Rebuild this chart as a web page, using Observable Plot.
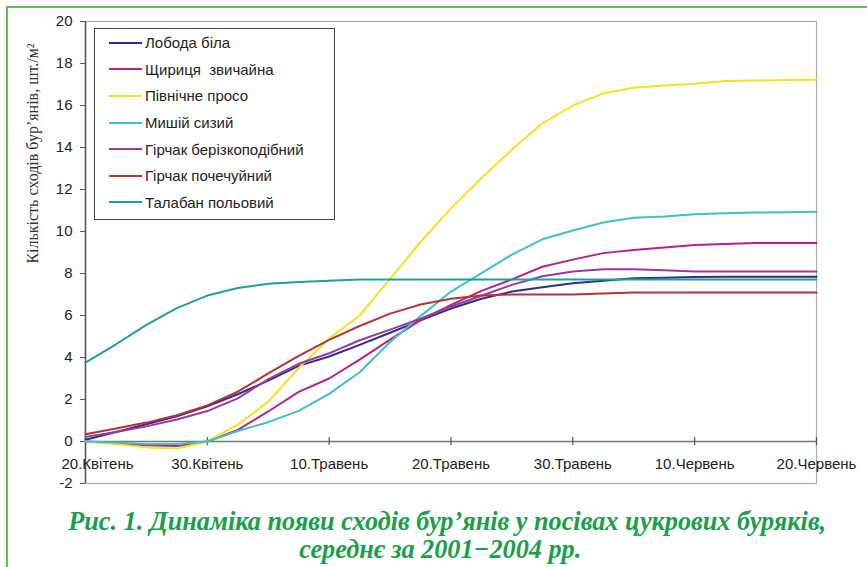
<!DOCTYPE html>
<html>
<head>
<meta charset="utf-8">
<script src="https://cdn.jsdelivr.net/npm/d3@7"></script>
<script src="https://cdn.jsdelivr.net/npm/@observablehq/plot@0.6"></script>
<style>
html, body { margin: 0; padding: 0; background: #fff; width: 867px; height: 567px; overflow: hidden; }
#wrap { position: relative; width: 867px; height: 567px; overflow: hidden; }
#border { position: absolute; left: 6px; top: 6px; width: 900px; height: 600px; border-top: 2px solid #66bb55; border-left: 2px solid #66bb55; }
#chart { position: absolute; left: 0; top: 0; }
#legend { position: absolute; left: 94px; top: 28px; width: 241px; height: 192px; border: 1px solid #444; box-sizing: border-box; background: #fff; font: 15px "Liberation Sans", Arial, sans-serif; color: #222; }
.row { position: absolute; left: 14px; height: 20px; display: flex; align-items: center; white-space: pre; }
.sw { width: 33px; height: 2px; margin-right: 3px; }
#caption { position: absolute; left: 0; width: 867px; top: 507px; text-align: center; font: italic bold 27px "Liberation Serif", serif; color: #1a9f4a; line-height: 28px; }
#caption div { white-space: nowrap; height: 28px; }
#caption span { display: inline-block; transform-origin: center; }
</style>
</head>
<body>
<div id="wrap">
  <div id="border"></div>
  <div id="chart"></div>
  <div id="legend"></div>
  <div id="caption"></div>
</div>
<script>
// ---- data ----
const days = [0, 2.5, 5, 7.5, 10, 12.5, 15, 17.5, 20, 22.5, 25, 27.5, 30, 32.5, 35, 37.5, 40, 42.5, 45, 47.5, 50, 52.5, 55, 57.5, 60];

const lobodaBila = [0.08, 0.45, 0.82, 1.2, 1.68, 2.25, 2.9, 3.6, 4.05, 4.6, 5.18, 5.77, 6.33, 6.8, 7.14, 7.35, 7.54, 7.65, 7.77, 7.8, 7.83, 7.84, 7.85, 7.85, 7.85];
const shchyrytsia = [0, -0.08, -0.18, -0.22, 0, 0.55, 1.43, 2.36, 3.0, 3.9, 4.85, 5.78, 6.51, 7.17, 7.72, 8.32, 8.66, 8.97, 9.12, 9.24, 9.36, 9.41, 9.45, 9.45, 9.45];
const pivnyacheProso = [0, -0.12, -0.28, -0.33, 0, 0.8, 1.9, 3.5, 4.9, 6.0, 7.74, 9.5, 11.1, 12.55, 13.9, 15.15, 16.0, 16.58, 16.85, 16.95, 17.04, 17.17, 17.19, 17.21, 17.23];
const myshiySyzyi = [0, -0.05, -0.12, -0.12, 0, 0.5, 0.92, 1.46, 2.27, 3.3, 4.74, 5.97, 7.14, 8.02, 8.9, 9.63, 10.05, 10.43, 10.65, 10.71, 10.82, 10.87, 10.9, 10.92, 10.94];
const hirchakBerizko = [0.22, 0.45, 0.72, 1.05, 1.45, 2.05, 2.97, 3.7, 4.2, 4.82, 5.33, 5.85, 6.43, 6.94, 7.46, 7.87, 8.1, 8.2, 8.2, 8.15, 8.09, 8.09, 8.09, 8.09, 8.09];
const hirchakPochech = [0.35, 0.62, 0.9, 1.25, 1.72, 2.37, 3.24, 4.08, 4.84, 5.5, 6.09, 6.52, 6.8, 6.95, 7.0, 7.0, 7.0, 7.05, 7.1, 7.1, 7.1, 7.1, 7.1, 7.1, 7.1];
const talaban = [3.76, 4.63, 5.55, 6.35, 6.95, 7.31, 7.51, 7.6, 7.65, 7.72, 7.72, 7.72, 7.72, 7.72, 7.72, 7.72, 7.72, 7.72, 7.72, 7.72, 7.72, 7.72, 7.72, 7.72, 7.72];

const seriesNames = ["Лобода біла", "Щириця  звичайна", "Північне просо", "Мишій сизий", "Гірчак берізкоподібний", "Гірчак почечуйний", "Талабан польовий"];
const seriesValues = [lobodaBila, shchyrytsia, pivnyacheProso, myshiySyzyi, hirchakBerizko, hirchakPochech, talaban];
const seriesColors = ["#2a2f8c", "#b5228e", "#f5e31b", "#3cc4c0", "#9b3a9e", "#b83236", "#20a09a"];

const tickDays = [0, 10, 20, 30, 40, 50, 60];
const tickLabels = ["20.Квітень", "30.Квітень", "10.Травень", "20.Травень", "30.Травень", "10.Червень", "20.Червень"];
const yTicks = [-2, 0, 2, 4, 6, 8, 10, 12, 14, 16, 18, 20];
const yLabel = "Кількість сходів бур’янів, шт./м²";
const captionLines = ["Рис. 1. Динаміка появи сходів бур’янів у посівах цукрових буряків,", "середнє за 2001−2004 рр."];

// ---- table ----
const rows = [];
seriesValues.forEach((vals, s) => vals.forEach((v, i) => rows.push({series: seriesNames[s], day: days[i], value: v})));
const xTicksData = tickDays.map((d, i) => ({day: d, label: tickLabels[i]}));

const chart = Plot.plot({
  width: 867,
  height: 496,
  marginLeft: 85,
  marginRight: 51,
  marginTop: 21,
  marginBottom: 13,
  style: {fontFamily: "'Liberation Sans', Arial, sans-serif", color: "#222", background: "transparent"},
  x: {domain: [0, 60], axis: null},
  y: {domain: [-2, 20], axis: null},
  color: {domain: seriesNames, range: seriesColors},
  marks: [
    Plot.frame({stroke: "#aaa", strokeWidth: 1.2}),
    Plot.axisY({ticks: yTicks, tickSize: 5, tickPadding: 8, fontSize: 15, label: null, stroke: "#555", fill: "#222", tickFormat: d => String(d)}),
    Plot.ruleX([0], {stroke: "#555", strokeWidth: 1.5}),
    Plot.ruleY([0], {stroke: "#777", strokeWidth: 1.5}),
    Plot.ruleX(xTicksData, {x: "day", y1: 0, y2: 0, insetTop: 4, insetBottom: 4, stroke: "#555", strokeWidth: 1.2}),
    Plot.line(rows, {x: "day", y: "value", z: "series", stroke: "series", strokeWidth: 2}),
    Plot.text(xTicksData.slice(1), {x: "day", y: 0, text: "label", dy: 23, fontSize: 15, fill: "#222"}),
    Plot.text(xTicksData.slice(0, 1), {x: "day", y: 0, text: "label", dy: 23, dx: 12, fontSize: 15, fill: "#222"}),
    Plot.text([yLabel], {frameAnchor: "left", textAnchor: "middle", lineAnchor: "middle", rotate: -90, dx: -53, dy: -99, fontFamily: "'Liberation Serif', serif", fontSize: 16, fill: "#333"})
  ]
});
document.getElementById("chart").appendChild(chart);

// ---- legend ----
const legend = document.getElementById("legend");
seriesNames.forEach((name, i) => {
  const row = document.createElement("div");
  row.className = "row";
  row.style.top = (3.7 + i * 26.6) + "px";
  const sw = document.createElement("span");
  sw.className = "sw";
  sw.style.background = seriesColors[i];
  const t = document.createElement("span");
  t.textContent = name;
  row.appendChild(sw);
  row.appendChild(t);
  legend.appendChild(row);
});

// ---- caption ----
const cap = document.getElementById("caption");
const shifts = [14, 7];
const spans = captionLines.map((line, i) => {
  const div = document.createElement("div");
  div.style.paddingLeft = (2 * shifts[i]) + "px";
  const sp = document.createElement("span");
  sp.textContent = line;
  div.appendChild(sp);
  cap.appendChild(div);
  return sp;
});
const w0 = spans[0].getBoundingClientRect().width;
const k = 758 / w0;
spans.forEach(sp => sp.style.transform = `scaleX(${k})`);
</script>
</body>
</html>
